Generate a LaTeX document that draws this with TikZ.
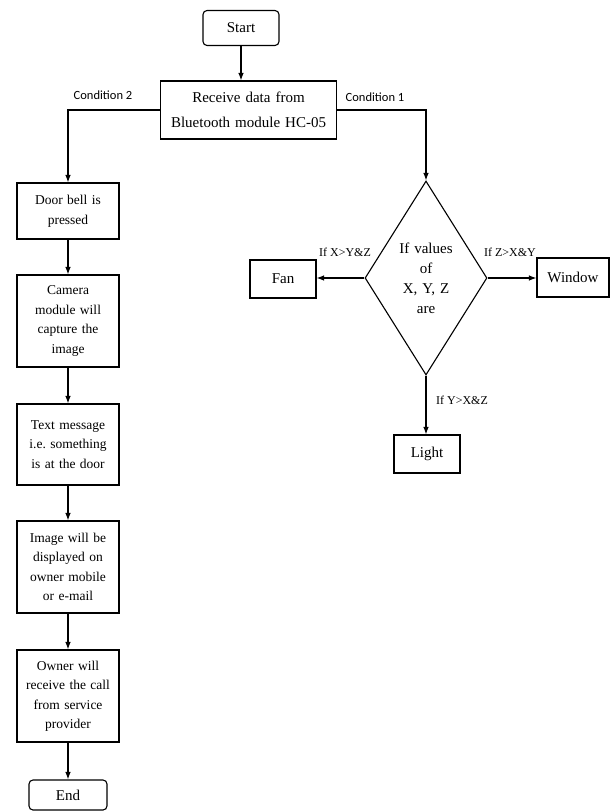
\documentclass[tikz,border=0pt]{standalone}
\usepackage{fontspec}
\setmainfont{Liberation Serif}
\newfontfamily\condfont{Carlito}
\usetikzlibrary{shapes.geometric,arrows.meta}
\frenchspacing
\begin{document}
\begin{tikzpicture}[x=1pt,y=-1pt,
    box/.style={draw, line width=1.1pt, text centered, inner sep=3pt},
    stepbox/.style={box, text width=95pt, minimum width=102pt, font=\fontsize{13.5}{19.5}\selectfont},
    outbox/.style={box, minimum width=66pt, minimum height=38pt, font=\fontsize{15}{18}\selectfont},
    flow/.style={line width=1.1pt, -{Latex[length=7.5pt,width=5.5pt]}},
    lbl/.style={font=\fontsize{12}{14}\selectfont, inner sep=1pt},
    cond/.style={font=\condfont\fontsize{12.5}{14}\selectfont, inner sep=1pt}]
\useasboundingbox (0,0) rectangle (610,812);

    \node[box, rounded corners=4pt, minimum width=76pt, minimum height=35pt, font=\fontsize{15}{18}\selectfont] (start) at (241,28) {Start};
    \node[box, text width=170pt, minimum height=58pt, font=\fontsize{15}{25}\selectfont] (receive) at (248.5,110) {Receive data from\\ Bluetooth module HC-05};

    % left branch
    \node[stepbox, minimum height=56pt] (door) at (68,211) {Door bell is\\ pressed};
    \node[stepbox, minimum height=92pt] (camera) at (68,321) {Camera\\ module will\\ capture the\\ image};
    \node[stepbox, minimum height=81pt] (msg) at (68,444.5) {Text message\\ i.e. something\\ is at the door};
    \node[stepbox, minimum height=92pt] (disp) at (68,567) {Image will be\\ displayed on\\ owner mobile\\ or e-mail};
    \node[stepbox, minimum height=92pt] (owner) at (68,696) {Owner will\\ receive the call\\ from service\\ provider};
    \node[box, rounded corners=4pt, minimum width=78pt, minimum height=30pt, font=\fontsize{15}{18}\selectfont] (stop) at (68,795) {End};

    % right branch
    \node[draw, line width=1.1pt, diamond, aspect=0.63, minimum width=122pt, minimum height=194pt, inner sep=0pt, text width=58pt, text centered, font=\fontsize{15}{20}\selectfont] (dec) at (426,278) {If values\\ of\\ X, Y, Z\\ are};
    \node[outbox] (fan) at (283,279) {Fan};
    \node[outbox, minimum width=72pt, minimum height=39pt] (window) at (573,277.5) {Window};
    \node[outbox] (light) at (427,454) {Light};

\draw[flow] (start) -- (start |- receive.north);
\draw[flow] (receive.east) -| (dec.north);
\node[cond] (cond1) at (375,97) {Condition 1};
\draw[flow] (receive.west) -| (door.north);
\node[cond] (cond2) at (103,95) {Condition 2};

\foreach \a/\b in {door/camera, camera/msg, msg/disp, disp/owner, owner/stop}
    \draw[flow] (\a) -- (\b);

\draw[flow] (dec.west) -- (dec.west -| fan.east);
\node[lbl] (fanlbl) at (345,252) {If X>Y\&Z};
\draw[flow] (dec.east) -- (dec.east -| window.west);
\node[lbl] (winlbl) at (510,252) {If Z>X\&Y};
\draw[flow] (dec.south) -- (dec.south |- light.north);
\node[lbl] (lightlbl) at (462,400) {If Y>X\&Z};
\end{tikzpicture}
\end{document}
